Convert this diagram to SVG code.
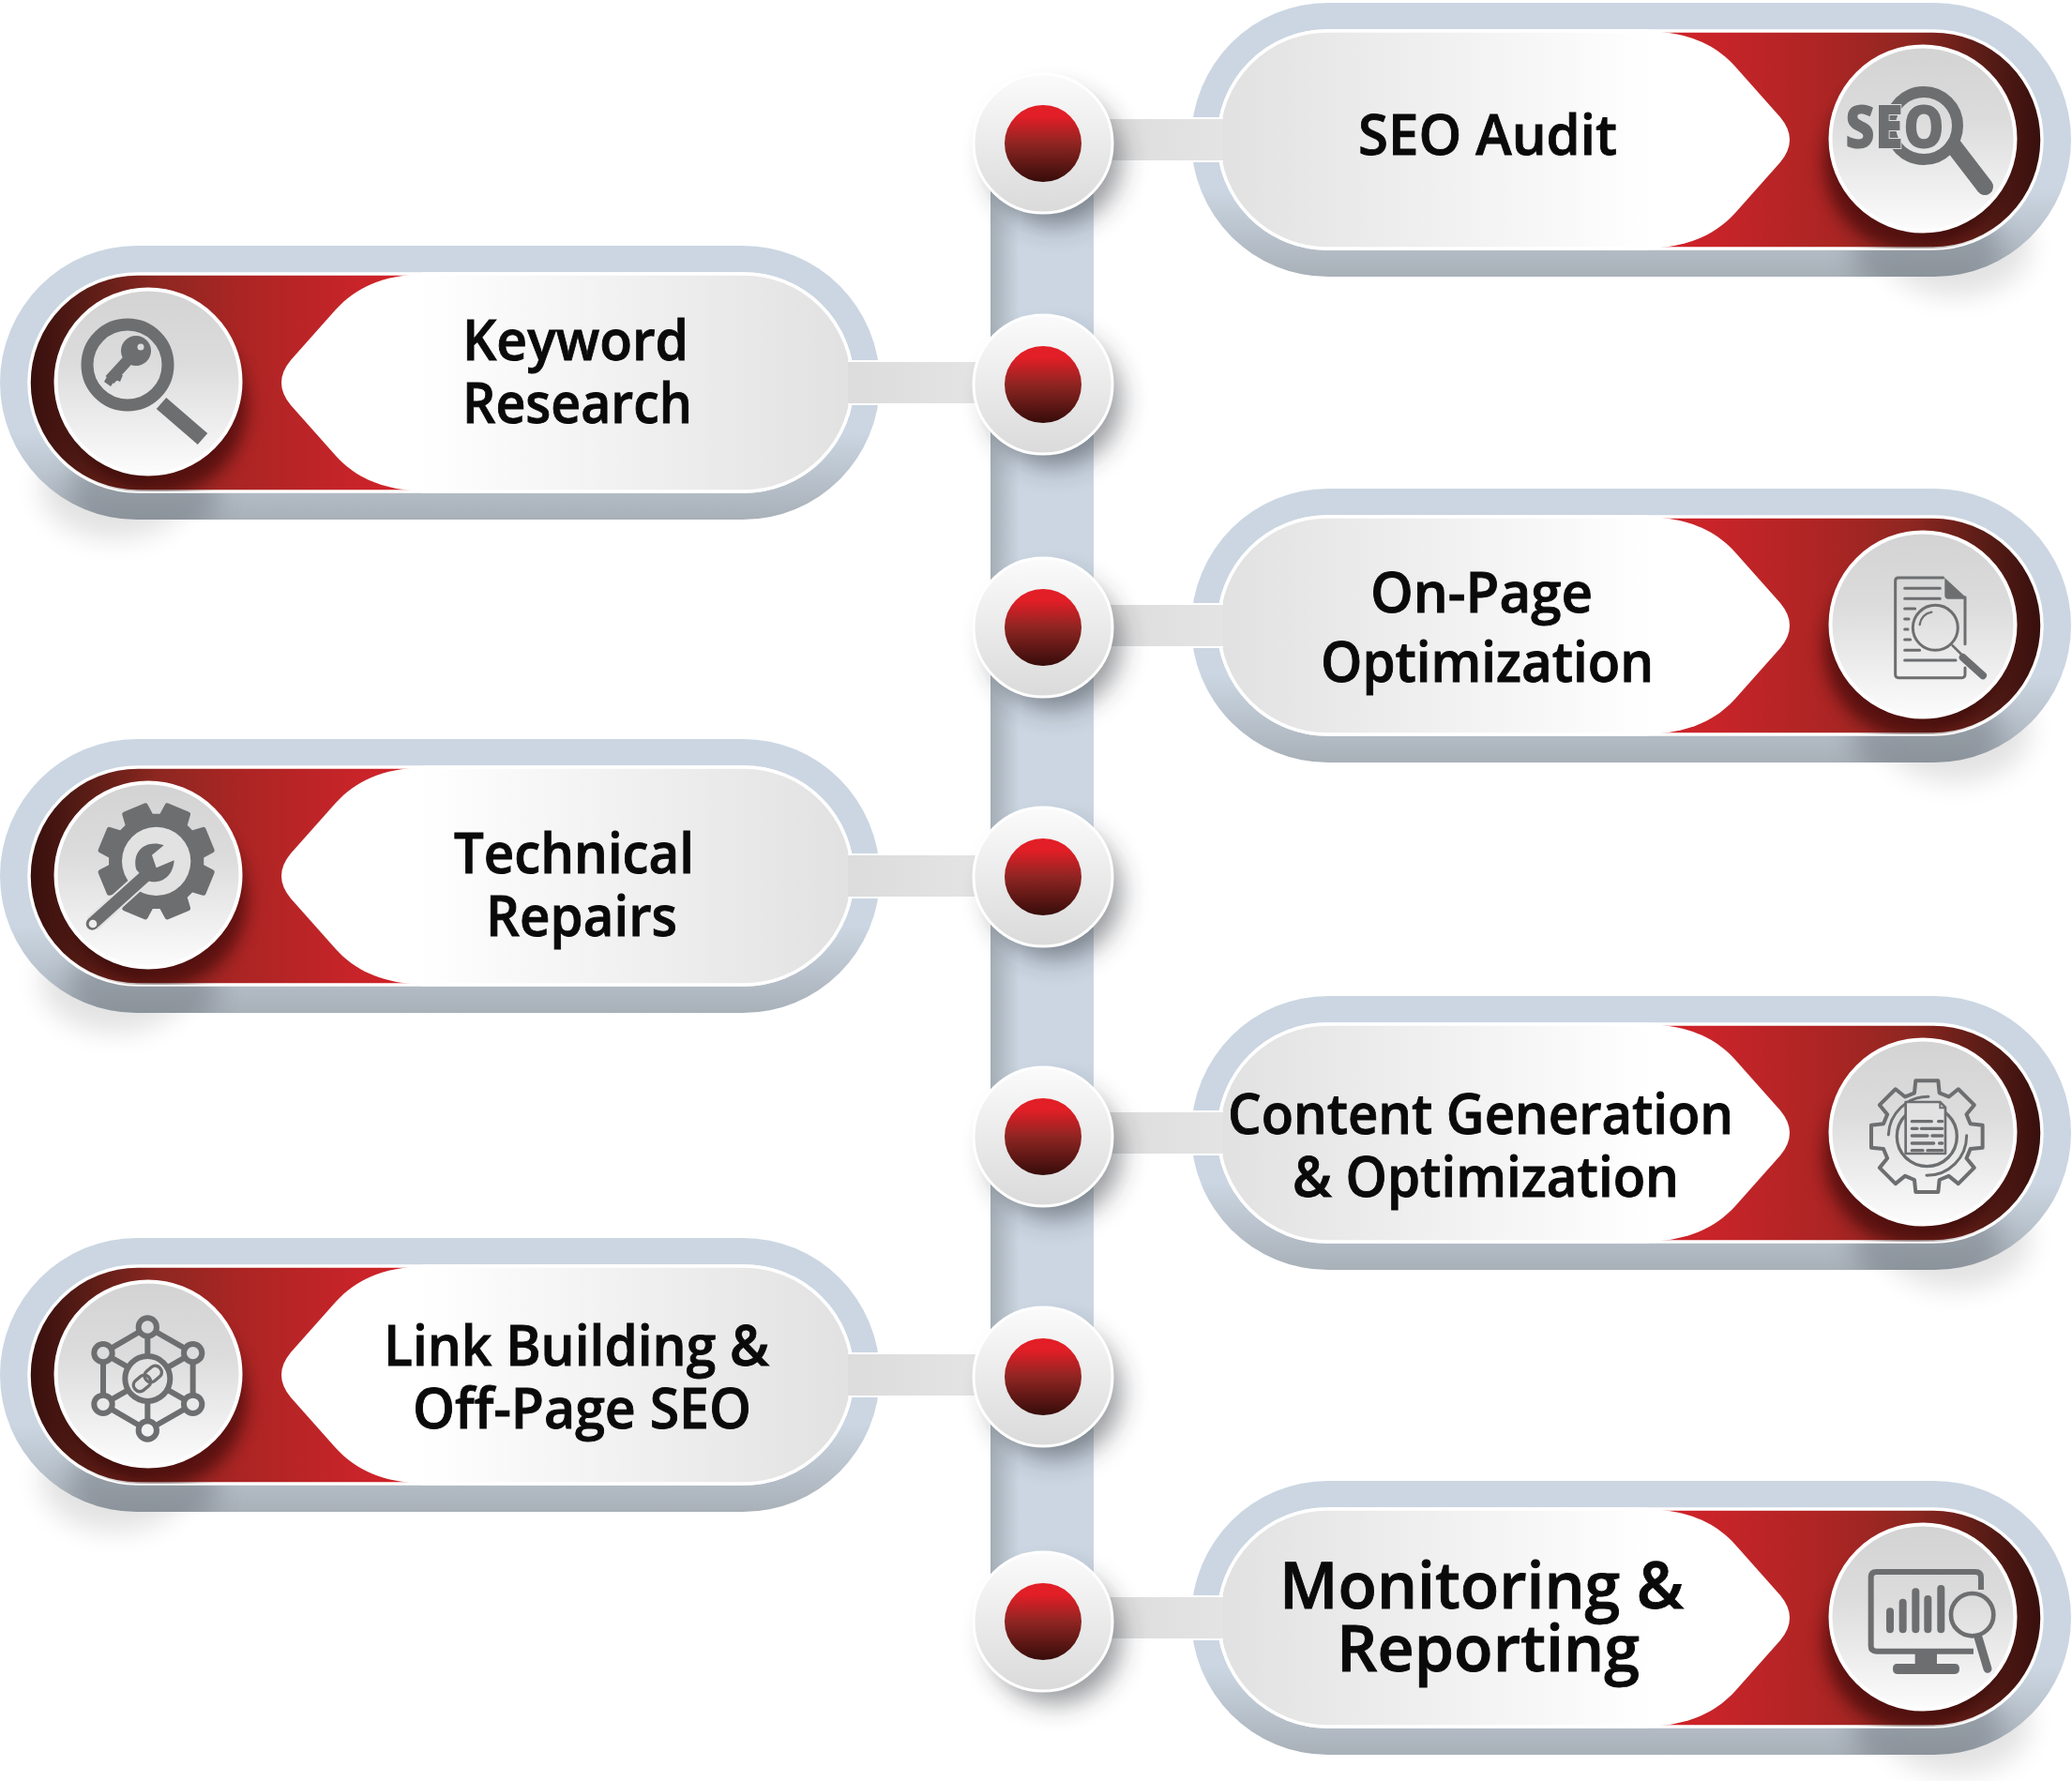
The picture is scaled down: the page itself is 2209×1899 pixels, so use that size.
<svg xmlns="http://www.w3.org/2000/svg" width="2209" height="1899" viewBox="0 0 2209 1899">
<style>
.t{font-family:"Open Sans","Noto Sans","Liberation Sans",sans-serif;font-weight:600;font-size:59px;fill:#0a0a0a;stroke:#0a0a0a;stroke-width:.9}
.tb{font-size:68px}
.ic{fill:none;stroke:#6d6e70;stroke-linecap:round;stroke-linejoin:round}
.if{fill:#6d6e70}
.stub{fill:url(#stubG)}
</style>
<defs>
<linearGradient id="outerG" x1="0" y1="-146" x2="0" y2="146" gradientUnits="userSpaceOnUse"><stop offset="0" stop-color="#cbd6e2"/><stop offset=".68" stop-color="#cbd6e2"/><stop offset="1" stop-color="#a8b0b8"/></linearGradient>
<linearGradient id="redG" x1="1775" y1="0" x2="2177" y2="0" gradientUnits="userSpaceOnUse"><stop offset="0" stop-color="#d12229"/><stop offset=".15" stop-color="#c62429"/><stop offset=".42" stop-color="#ad2524"/><stop offset=".65" stop-color="#8f2721"/><stop offset=".87" stop-color="#541b15"/><stop offset="1" stop-color="#360f0d"/></linearGradient>
<linearGradient id="bodyG" x1="1299" y1="0" x2="1760" y2="0" gradientUnits="userSpaceOnUse"><stop offset="0" stop-color="#e1e1e1"/><stop offset="1" stop-color="#ffffff"/></linearGradient>
<linearGradient id="discG" x1="0" y1="0" x2="0" y2="1"><stop offset="0" stop-color="#d3d3d3"/><stop offset=".4" stop-color="#dcdcdc"/><stop offset="1" stop-color="#fcfcfc"/></linearGradient>
<linearGradient id="dotG" x1="0" y1="0" x2="0" y2="1"><stop offset="0" stop-color="#fbfbfb"/><stop offset="1" stop-color="#dadada"/></linearGradient>
<linearGradient id="redDot" x1="0" y1="0" x2="0" y2="1"><stop offset=".15" stop-color="#e21e26"/><stop offset=".5" stop-color="#8f2522"/><stop offset="1" stop-color="#360c0a"/></linearGradient>
<linearGradient id="barG" x1="1056" y1="0" x2="1166" y2="0" gradientUnits="userSpaceOnUse"><stop offset="0" stop-color="#a4adb5"/><stop offset=".28" stop-color="#cbd6e2"/><stop offset="1" stop-color="#cbd6e2"/></linearGradient>
<linearGradient id="stubG" x1="0" y1="0" x2="1" y2="0"><stop offset="0" stop-color="#dcdcdc"/><stop offset="1" stop-color="#e4e4e4"/></linearGradient>
<filter id="b14" x="-60%" y="-60%" width="220%" height="220%"><feGaussianBlur stdDeviation="14"/></filter>
<filter id="b9" x="-60%" y="-60%" width="220%" height="220%"><feGaussianBlur stdDeviation="9"/></filter>
<clipPath id="outerC"><rect x="1270" y="-146" width="938" height="292" rx="146"/></clipPath>
<clipPath id="innerC"><rect x="1299" y="-116" width="878" height="232" rx="116"/></clipPath>
<g id="pill">
<ellipse cx="2085" cy="112" rx="80" ry="55" fill="#000" opacity=".11" filter="url(#b14)"/>
<rect x="1270" y="-146" width="938" height="292" rx="146" fill="url(#outerG)"/>
<g clip-path="url(#outerC)"><ellipse cx="2055" cy="118" rx="80" ry="55" fill="#4a5058" opacity=".3" filter="url(#b14)"/></g>
<rect x="1299" y="-116" width="878" height="232" rx="116" fill="url(#redG)" stroke="#fff" stroke-width="3.5"/>
<g clip-path="url(#innerC)"><circle cx="2040" cy="24" r="95" fill="#1c0404" opacity=".55" filter="url(#b9)"/></g>
<path d="M1415,-116H1758C1800,-114 1828,-102 1850,-78L1898,-24Q1908,-12 1908,0Q1908,12 1898,24L1850,78C1828,102 1800,114 1758,116H1415A116,116 0 0 1 1415,-116Z" fill="url(#bodyG)"/>
<path d="M1758,-116H1415A116,116 0 0 0 1415,116H1758" fill="none" stroke="#fff" stroke-width="3.5"/>
<circle cx="2050" cy="-1" r="98.5" fill="url(#discG)" stroke="#fff" stroke-width="4"/>
</g>
<g id="dot">
<circle cx="13" cy="17" r="70" fill="#2a2f35" opacity=".5" filter="url(#b14)"/>
<circle r="74" fill="url(#dotG)" stroke="#fff" stroke-width="3"/>
<circle r="41" fill="url(#redDot)"/>
</g>
<path id="gearP" d="M-40,-139L-36,-178L36,-178L40,-139L70,-126.6L100.4,-151.3L151.3,-100.4L126.6,-70L139,-40L178,-36L178,36L139,40L126.6,70L151.3,100.4L100.4,151.3L70,126.6L40,139L36,178L-36,178L-40,139L-70,126.6L-100.4,151.3L-151.3,100.4L-126.6,70L-139,40L-178,36L-178,-36L-139,-40L-126.6,-70L-151.3,-100.4L-100.4,-151.3L-70,-126.6Z"/>
</defs>

<g id="node-seo-audit">
<use href="#pill" transform="translate(0,149)"/>
<g id="icon-seo">
<circle cx="2051" cy="134" r="36" class="ic" stroke-width="12"/>
<path d="M2083,156L2116,199" class="ic" stroke-width="18"/>
<text x="1967" y="158" textLength="106" lengthAdjust="spacingAndGlyphs" font-family="'Open Sans','Liberation Sans',sans-serif" font-weight="800" font-size="63" fill="#6d6e70" stroke="#dedede" stroke-width="2" paint-order="stroke">SEO</text>
</g>
<text class="t" x="1448" y="165" textLength="276" lengthAdjust="spacingAndGlyphs">SEO Audit</text>
</g>

<g id="node-keyword-research">
<use href="#pill" transform="translate(2208,408) scale(-1,1)"/>
<g id="icon-key">
<circle cx="136" cy="389" r="43" class="ic" stroke-width="13"/>
<path d="M172,430L216,468" class="ic" stroke-width="16" style="stroke-linecap:butt"/>
<circle cx="145" cy="374" r="16" class="if"/>
<path d="M139,381L117,405" class="ic" stroke-width="12" style="stroke-linecap:butt"/>
<path d="M116,398L111,407L118,412L123,405L128,407L131,400Z" class="if"/>
<circle cx="150" cy="370" r="3.5" fill="#dcdcdc"/>
</g>
<text class="t" x="493" y="384" textLength="241" lengthAdjust="spacingAndGlyphs">Keyword</text>
<text class="t" x="493" y="451" textLength="245" lengthAdjust="spacingAndGlyphs">Research</text>
</g>

<g id="node-on-page">
<use href="#pill" transform="translate(0,667)"/>
<g id="icon-doc" transform="translate(1900,540) scale(.3333)">
<path d="M515,228H372Q362,228 362,238V538Q362,548 372,548H575Q585,548 585,538V516M585,440V290" class="ic" stroke-width="9"/>
<path d="M520,228L587,290V296H532Q520,296 520,284Z" class="if"/>
<path d="M392,262H505M392,295H505M392,327H425M392,360H405M392,393H402M392,426H410M392,460H440M392,492H555" class="ic" stroke-width="9"/>
<circle cx="490" cy="388" r="72" class="ic" stroke-width="9"/>
<path d="M545,445L572,472" class="ic" stroke-width="8"/>
<path d="M578,483L642,541" class="ic" stroke-width="24"/>
<path d="M440,378Q445,345 478,338" class="ic" stroke-width="7"/>
</g>
<text class="t" x="1461" y="653" textLength="237" lengthAdjust="spacingAndGlyphs">On-Page</text>
<text class="t" x="1408" y="727" textLength="355" lengthAdjust="spacingAndGlyphs">Optimization</text>
</g>

<g id="node-technical-repairs">
<use href="#pill" transform="translate(2208,934) scale(-1,1)"/>
<g id="icon-gear" transform="translate(40,810) scale(.3333)">
<g transform="translate(380,325) rotate(22.5)">
<use href="#gearP" class="if" stroke="#6d6e70" stroke-width="16" stroke-linejoin="round"/>
<circle r="110" fill="#e2e2e2"/>
</g>
<path d="M175,525L345,372" class="ic" stroke-width="52" style="stroke:#e2e2e2;stroke-linecap:butt"/>
<path d="M175,525L345,372" class="ic" stroke-width="40"/>
<path d="M316,352C300,290 350,255 404,274L366,305L380,346L437,322C434,380 385,404 345,384Z" class="if"/>
<circle cx="177" cy="525" r="13" fill="#ececec"/>
</g>
<text class="t" x="484" y="931" textLength="256" lengthAdjust="spacingAndGlyphs">Technical</text>
<text class="t" x="518" y="998" textLength="204" lengthAdjust="spacingAndGlyphs">Repairs</text>
</g>

<g id="node-content-generation">
<use href="#pill" transform="translate(0,1208)"/>
<g id="icon-gear-doc" transform="translate(1900,1090) scale(.3333)">
<use href="#gearP" transform="translate(463,365)" class="ic" stroke-width="12"/>
<circle cx="463" cy="365" r="96" class="ic" stroke-width="10"/>
<path d="M468,238A127,127 0 0 0 340,360M462,490A127,127 0 0 0 590,362" class="ic" stroke-width="9"/>
<path d="M395,255H505L522,272V420H395Z" fill="#e2e2e2" stroke="#6d6e70" stroke-width="8" stroke-linejoin="round"/>
<path d="M505,257V274H522" fill="none" stroke="#6d6e70" stroke-width="6"/>
<path d="M415,317H478M500,317H512M415,340H432M445,340H512M415,363H465M480,363H512M415,387H485M503,387H512M415,410H450M465,410H512" class="ic" stroke-width="10"/>
</g>
<text class="t" x="1309" y="1209" textLength="539" lengthAdjust="spacingAndGlyphs">Content Generation</text>
<text class="t" x="1378" y="1276" textLength="412" lengthAdjust="spacingAndGlyphs">&amp; Optimization</text>
</g>

<g id="node-link-building">
<use href="#pill" transform="translate(2208,1466) scale(-1,1)"/>
<g id="icon-network" transform="translate(40,1345) scale(.3333)">
<path d="M352,210L497,293V457L352,540L210,457V293ZM352,210V540M497,293L210,457M497,457L210,293" class="ic" stroke-width="18"/>
<circle cx="352" cy="375" r="72" fill="#e3e3e3" stroke="#6d6e70" stroke-width="18"/>
<g fill="#e3e3e3" stroke="#6d6e70" stroke-width="18">
<circle cx="352" cy="210" r="29" fill="#d9d9d9"/><circle cx="497" cy="293" r="29" fill="#dddddd"/><circle cx="497" cy="457" r="29" fill="#e9e9e9"/><circle cx="352" cy="540" r="29" fill="#f2f2f2"/><circle cx="210" cy="457" r="29" fill="#e9e9e9"/><circle cx="210" cy="293" r="29" fill="#dddddd"/>
</g>
<g transform="rotate(-40 352 375)" fill="none" stroke="#6d6e70" stroke-width="10">
<rect x="300" y="355" width="58" height="40" rx="18"/><rect x="346" y="355" width="58" height="40" rx="18"/>
</g>
</g>
<text class="t" x="409" y="1456" textLength="411" lengthAdjust="spacingAndGlyphs">Link Building &amp;</text>
<text class="t" x="440" y="1523" textLength="361" lengthAdjust="spacingAndGlyphs">Off-Page SEO</text>
</g>

<g id="node-monitoring">
<use href="#pill" transform="translate(0,1725)"/>
<g id="icon-monitor" transform="translate(1900,1610) scale(.3333)">
<path d="M636,255V215Q636,198 618,198H302Q284,198 284,215V435Q284,452 302,452H612" class="ic" stroke-width="18" style="stroke-linecap:butt"/>
<path d="M345,325V382M386,296V382M427,262V382M466,285V382M508,252V382" class="ic" stroke-width="24"/>
<path d="M425,452H495V492H552Q567,492 567,508Q567,525 552,525H368Q354,525 354,508Q354,492 368,492H425Z" class="if"/>
<circle cx="608" cy="335" r="68" class="ic" stroke-width="14"/>
<path d="M628,410L657,508" class="ic" stroke-width="27"/>
</g>
<text class="t tb" x="1364" y="1715" textLength="431" lengthAdjust="spacingAndGlyphs">Monitoring &amp;</text>
<text class="t tb" x="1425" y="1782" textLength="323" lengthAdjust="spacingAndGlyphs">Reporting</text>
</g>

<g id="connectors">
<rect x="1056" y="153" width="110" height="1576" fill="url(#barG)"/>
<path d="M1270,125H1304V173H1270ZM1270,643H1304V691H1270ZM1270,1184H1304V1232H1270ZM1270,1701H1304V1749H1270ZM904,384H938V432H904ZM904,910H938V958H904ZM904,1442H938V1490H904Z" fill="#fff"/>
<rect class="stub" x="1170" y="127" width="134" height="44"/>
<rect class="stub" x="1170" y="645" width="134" height="44"/>
<rect class="stub" x="1170" y="1186" width="134" height="44"/>
<rect class="stub" x="1170" y="1703" width="134" height="44"/>
<rect class="stub" x="904" y="386" width="140" height="44"/>
<rect class="stub" x="904" y="912" width="140" height="44"/>
<rect class="stub" x="904" y="1444" width="140" height="44"/>
</g>

<g id="dot-1"><use href="#dot" transform="translate(1112,153)"/></g>
<g id="dot-2"><use href="#dot" transform="translate(1112,410)"/></g>
<g id="dot-3"><use href="#dot" transform="translate(1112,669)"/></g>
<g id="dot-4"><use href="#dot" transform="translate(1112,935)"/></g>
<g id="dot-5"><use href="#dot" transform="translate(1112,1212)"/></g>
<g id="dot-6"><use href="#dot" transform="translate(1112,1468)"/></g>
<g id="dot-7"><use href="#dot" transform="translate(1112,1729)"/></g>
</svg>
